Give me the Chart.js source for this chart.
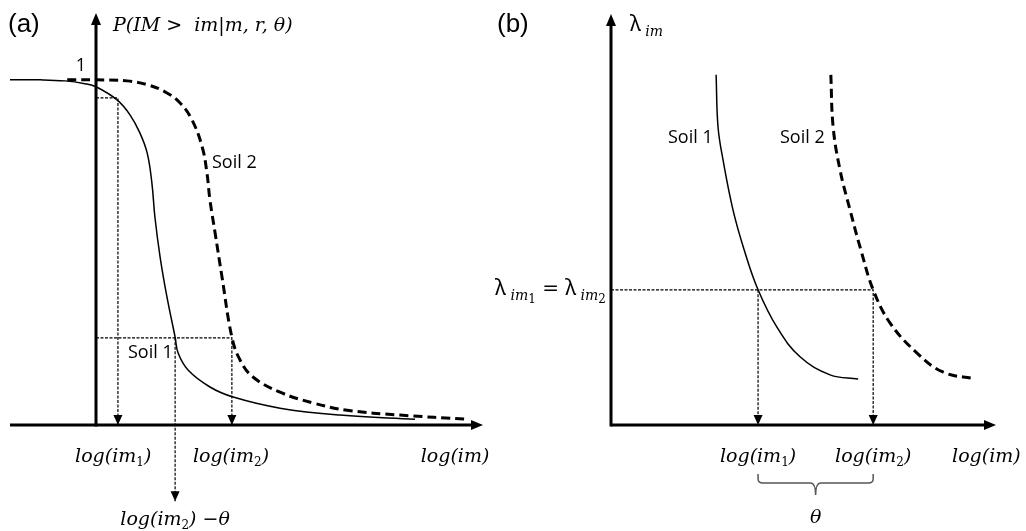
<!DOCTYPE html>
<html><head><meta charset="utf-8">
<script src="https://cdn.jsdelivr.net/npm/chart.js@4/dist/chart.umd.min.js"></script>
<style>
html,body{margin:0;padding:0;background:#fff;width:1026px;height:531px;overflow:hidden}
.panel{position:absolute;top:0;height:531px}
#pa{left:0;width:513px}
#pb{left:480px;width:546px}
</style></head><body>
<div class="panel" id="pa"><canvas id="ca"></canvas></div>
<div class="panel" id="pb"><canvas id="cb"></canvas></div>
<script>
// ---------- Panel (a): exceedance probability curves ----------
const aSoil1X = [-2.0, -1.30, -0.72, -0.26, 0, 0.49, 0.79, 1.02, 1.19, 1.30, 1.37, 1.49, 1.65, 1.84, 1.91, 2.14, 2.65, 3.19, 4.28, 5.67, 7.42];
const aSoil1Y = [0.997, 0.997, 0.994, 0.986, 0.977, 0.939, 0.896, 0.844, 0.786, 0.699, 0.601, 0.486, 0.370, 0.254, 0.208, 0.159, 0.110, 0.081, 0.049, 0.029, 0.017];
const aSoil2X = [-0.67, 0, 0.72, 1.19, 1.61, 1.95, 2.23, 2.47, 2.58, 2.65, 2.77, 2.93, 3.16, 3.35, 3.65, 4.28, 5.05, 5.84, 7.07, 8.65];
const aSoil2Y = [0.997, 0.997, 0.994, 0.983, 0.962, 0.931, 0.882, 0.803, 0.728, 0.650, 0.555, 0.428, 0.254, 0.188, 0.139, 0.095, 0.064, 0.043, 0.029, 0.017];
const aLevels = [0.945, 0.252];          // dotted reading levels
const aGuideX = [0.51, 1.84, 3.16];      // log(im1), log(im2)-theta, log(im2)
const aDropEnd = -0.22;                  // end of the log(im2)-theta arrow
const aTickX = [0.40, 3.14, 8.35];       // tick label centres
const aTickLabels = ['1', '2', ''];      // subscripts of log(im_i)

// ---------- Panel (b): hazard curves ----------
const bSoil1X = [2.73, 2.78, 2.91, 3.17, 3.46, 3.82, 4.31, 4.91, 5.69, 6.42];
const bSoil1Y = [8.52, 7.25, 6.45, 5.23, 4.26, 3.29, 2.38, 1.66, 1.22, 1.12];
const bSoil2X = [5.71, 5.77, 5.95, 6.21, 6.49, 6.81, 7.25, 7.95, 8.62, 9.46];
const bSoil2Y = [8.52, 7.25, 6.20, 5.23, 4.26, 3.29, 2.48, 1.75, 1.29, 1.12];
const bLevel = 3.29;
const bGuideX = [3.82, 6.81];
const bTickX = [3.82, 6.81, 9.75];

const zip = (xs, ys) => xs.map((x, i) => ({x, y: ys[i]}));

const M = 'italic 19px "DejaVu Serif"';
const SUBI = 'italic 14px "DejaVu Serif"';
const SUBN = '12px "DejaVu Serif"';
const SANS = '18px "Open Sans"';

function rich(ctx, parts, x, y, align) {
  let w = 0;
  parts.forEach(p => { ctx.font = p.f; p.w = ctx.measureText(p.t).width; w += p.w; });
  let cx = align === 'center' ? x - w / 2 : align === 'right' ? x - w : x;
  ctx.textAlign = 'left'; ctx.textBaseline = 'alphabetic';
  parts.forEach(p => { ctx.font = p.f; ctx.fillStyle = '#000'; ctx.fillText(p.t, cx, y + (p.dy || 0)); cx += p.w; });
}
function logParts(sub) {
  if (!sub) return [{t: 'log(im)', f: M}];
  return [{t: 'log(im', f: M}, {t: sub, f: SUBN, dy: 4}, {t: ')', f: M}];
}
function arrowDown(ctx, x, y) {
  ctx.beginPath(); ctx.moveTo(x, y); ctx.lineTo(x - 4.5, y - 10); ctx.lineTo(x + 4.5, y - 10); ctx.closePath(); ctx.fill();
}
function arrowUp(ctx, x, y) {
  ctx.beginPath(); ctx.moveTo(x, y); ctx.lineTo(x - 5, y + 12); ctx.lineTo(x + 5, y + 12); ctx.closePath(); ctx.fill();
}
function arrowRight(ctx, x, y) {
  ctx.beginPath(); ctx.moveTo(x, y); ctx.lineTo(x - 12, y - 5); ctx.lineTo(x - 12, y + 5); ctx.closePath(); ctx.fill();
}
function axes(chart, xFrom) {
  const ctx = chart.ctx, a = chart.chartArea, sx = chart.scales.x, sy = chart.scales.y;
  const x0 = sx.getPixelForValue(0), y0 = sy.getPixelForValue(0);
  ctx.save();
  ctx.strokeStyle = '#000'; ctx.fillStyle = '#000'; ctx.lineWidth = 3;
  ctx.beginPath(); ctx.moveTo(x0, y0 + 1.5); ctx.lineTo(x0, a.top + 10); ctx.stroke();
  arrowUp(ctx, x0, a.top);
  ctx.beginPath(); ctx.moveTo(sx.getPixelForValue(xFrom), y0); ctx.lineTo(a.right - 10, y0); ctx.stroke();
  arrowRight(ctx, a.right, y0);
  ctx.restore();
}
const guideStyle = {borderColor: '#000', borderWidth: 1.2, borderDash: [3, 1.5], pointRadius: 0, tension: 0, fill: false};
const curve = (xs, ys, dashed) => ({
  data: zip(xs, ys), showLine: true, borderColor: '#000', pointRadius: 0, tension: 0.4,
  borderWidth: dashed ? 3 : 1.5, borderDash: dashed ? [9, 5] : []
});
const baseOpts = (pad, xr, yr) => ({
  responsive: true, maintainAspectRatio: false, animation: false,
  layout: {padding: pad},
  plugins: {legend: {display: false}, tooltip: {enabled: false}},
  scales: {
    x: {type: 'linear', min: xr[0], max: xr[1], display: false},
    y: {type: 'linear', min: yr[0], max: yr[1], display: false}
  }
});

// ----- chart (a)
new Chart(document.getElementById('ca'), {
  type: 'scatter',
  data: {datasets: [
    curve(aSoil1X, aSoil1Y, false),
    curve(aSoil2X, aSoil2Y, true),
    Object.assign({data: [{x: 0, y: aLevels[0]}, {x: aGuideX[0], y: aLevels[0]}, {x: aGuideX[0], y: 0}], showLine: true}, guideStyle),
    Object.assign({data: [{x: 0, y: aLevels[1]}, {x: aGuideX[2], y: aLevels[1]}, {x: aGuideX[2], y: 0}], showLine: true}, guideStyle),
    Object.assign({data: [{x: aGuideX[1], y: aLevels[1]}, {x: aGuideX[1], y: aDropEnd}], showLine: true}, guideStyle)
  ]},
  options: baseOpts({left: 10, right: 30, top: 13, bottom: 2}, [-2, 9], [-0.3, 1.19]),
  plugins: [{
    id: 'deco',
    beforeDatasetsDraw(chart) { axes(chart, -2); },
    afterDatasetsDraw(chart) {
      const ctx = chart.ctx, sx = chart.scales.x, sy = chart.scales.y;
      const x0 = sx.getPixelForValue(0), y0 = sy.getPixelForValue(0);
      ctx.save(); ctx.fillStyle = '#000';
      arrowDown(ctx, sx.getPixelForValue(aGuideX[0]), y0);
      arrowDown(ctx, sx.getPixelForValue(aGuideX[2]), y0);
      arrowDown(ctx, sx.getPixelForValue(aGuideX[1]), sy.getPixelForValue(aDropEnd));
      ctx.font = '26px "Liberation Sans"'; ctx.textAlign = 'left'; ctx.textBaseline = 'alphabetic';
      ctx.fillText('(a)', 8, 32);
      rich(ctx, [{t: 'P(IM >  im|m, r, θ)', f: M}], x0 + 17, 31, 'left');
      ctx.font = SANS; ctx.textAlign = 'right'; ctx.textBaseline = 'middle';
      ctx.fillText('1', x0 - 10, sy.getPixelForValue(1) - 13);
      ctx.textAlign = 'left';
      ctx.fillText('Soil 2', 212, 163);
      ctx.fillText('Soil 1', 128, 353);
      aTickX.forEach((v, i) => rich(ctx, logParts(aTickLabels[i]), sx.getPixelForValue(v), y0 + 37, 'center'));
      rich(ctx, logParts('2').concat([{t: ' −', f: '19px "DejaVu Serif"'}, {t: 'θ', f: M}]), sx.getPixelForValue(aGuideX[1]), sy.getPixelForValue(aDropEnd) + 24, 'center');
      ctx.restore();
    }
  }]
});

// ----- chart (b)
new Chart(document.getElementById('cb'), {
  type: 'scatter',
  data: {datasets: [
    curve(bSoil1X, bSoil1Y, false),
    curve(bSoil2X, bSoil2Y, true),
    Object.assign({data: [{x: 0, y: bLevel}, {x: bGuideX[1], y: bLevel}, {x: bGuideX[1], y: 0}], showLine: true}, guideStyle),
    Object.assign({data: [{x: bGuideX[0], y: bLevel}, {x: bGuideX[0], y: 0}], showLine: true}, guideStyle)
  ]},
  options: baseOpts({left: 131, right: 30, top: 14, bottom: 106}, [0, 10], [0, 10]),
  plugins: [{
    id: 'deco',
    beforeDatasetsDraw(chart) { axes(chart, 0); },
    afterDatasetsDraw(chart) {
      const ctx = chart.ctx, sx = chart.scales.x, sy = chart.scales.y;
      const x0 = sx.getPixelForValue(0), y0 = sy.getPixelForValue(0);
      ctx.save(); ctx.fillStyle = '#000';
      bGuideX.forEach(v => arrowDown(ctx, sx.getPixelForValue(v), y0));
      ctx.font = '26px "Liberation Sans"'; ctx.textAlign = 'left'; ctx.textBaseline = 'alphabetic';
      ctx.fillText('(b)', 17, 32);
      const LAM = '21px "Noto Sans"';
      rich(ctx, [{t: 'λ', f: LAM}, {t: ' im', f: SUBI, dy: 5}], x0 + 19, 31, 'left');
      const ly = sy.getPixelForValue(bLevel);
      rich(ctx, [{t: 'λ', f: LAM}, {t: ' im', f: SUBI, dy: 5}, {t: '1', f: SUBN, dy: 8},
                 {t: ' = ', f: '20px "DejaVu Serif"'},
                 {t: 'λ', f: LAM}, {t: ' im', f: SUBI, dy: 5}, {t: '2', f: SUBN, dy: 8}], x0 - 5, ly + 5, 'right');
      ctx.font = SANS; ctx.textAlign = 'left'; ctx.textBaseline = 'middle';
      ctx.fillText('Soil 1', 668 - 480, 138);
      ctx.fillText('Soil 2', 780 - 480, 138);
      ['1', '2', ''].forEach((s, i) => rich(ctx, logParts(s), sx.getPixelForValue(bTickX[i]), y0 + 37, 'center'));
      // brace under the two readings
      const xa = sx.getPixelForValue(bGuideX[0]), xb = sx.getPixelForValue(bGuideX[1]), xm = (xa + xb) / 2;
      const top = y0 + 49, hy = y0 + 58, tip = y0 + 70;
      ctx.strokeStyle = '#555'; ctx.lineWidth = 1.5;
      ctx.beginPath();
      ctx.moveTo(xa, top); ctx.lineTo(xa, hy - 4); ctx.quadraticCurveTo(xa, hy, xa + 5, hy);
      ctx.lineTo(xm - 5, hy); ctx.quadraticCurveTo(xm, hy, xm, tip);
      ctx.quadraticCurveTo(xm, hy, xm + 5, hy); ctx.lineTo(xb - 5, hy);
      ctx.quadraticCurveTo(xb, hy, xb, hy - 4); ctx.lineTo(xb, top);
      ctx.stroke();
      rich(ctx, [{t: 'θ', f: M}], xm, y0 + 98, 'center');
      ctx.restore();
    }
  }]
});
</script>
</body></html>
